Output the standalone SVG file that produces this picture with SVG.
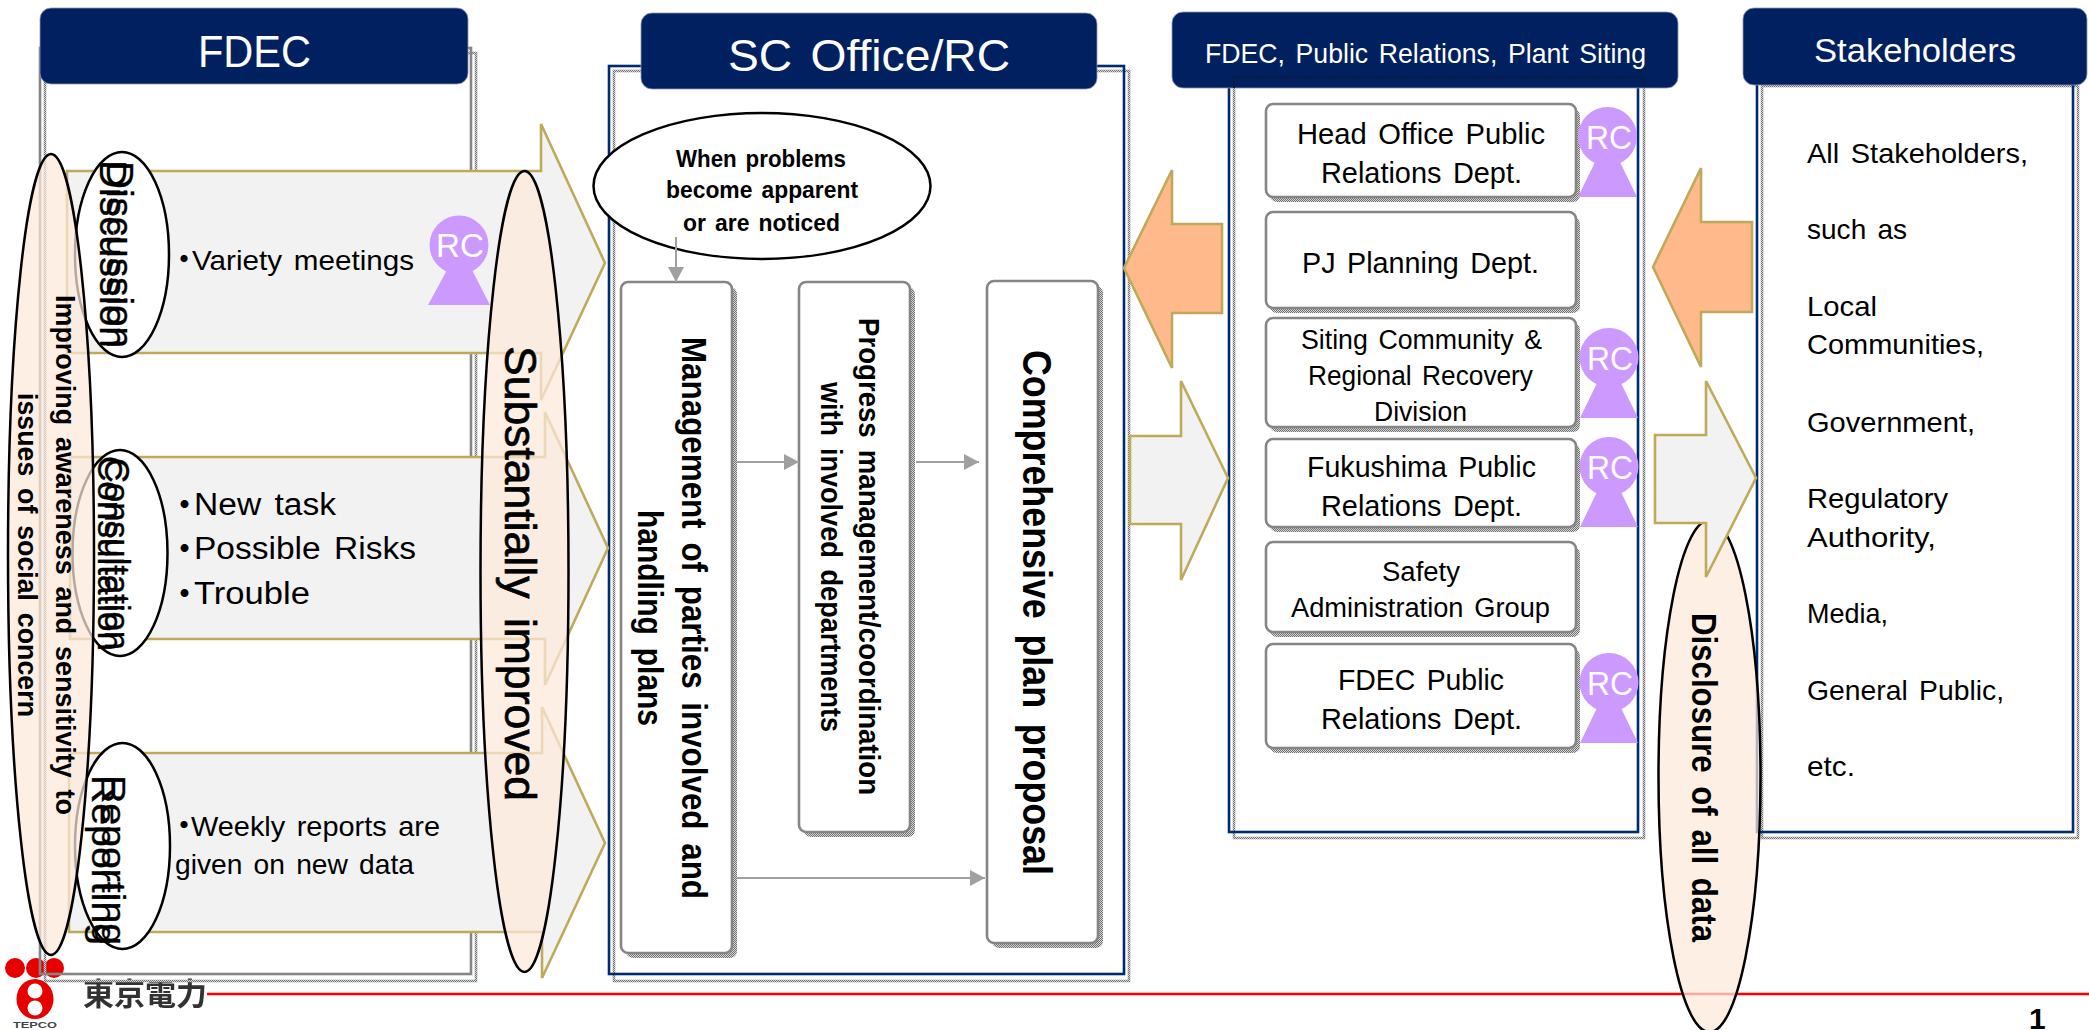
<svg xmlns="http://www.w3.org/2000/svg" width="2089" height="1030" viewBox="0 0 2089 1030">
<style>
text{font-family:"Liberation Sans","Noto Sans CJK JP",sans-serif;fill:#000;word-spacing:.12em}
.hd{fill:#002060;stroke:#8a97b5;stroke-width:.8}
.hdt{fill:#fff}
.gray{fill:none;stroke:#858585;stroke-width:2.6}
.navy{fill:none;stroke:#002a70;stroke-width:2.6}
.dot{fill:none;stroke:url(#dither);stroke-width:2.6}
.shadow{fill:url(#dither)}
.box{fill:#fff;stroke:#858585;stroke-width:2.6}
.arrow{fill:#f2f2f2;stroke:#bfa95a;stroke-width:2.6}
.orange{fill:#ffb98a;stroke:#bfa95a;stroke-width:2.6}
.ell{fill:#fff;stroke:#000;stroke-width:2.5}
.peach{fill:#fde9d9;fill-opacity:.72;stroke:#000;stroke-width:2.5}
.rc{fill:#cc99ff}
.rct{fill:#fff;font-size:33px}
.b{font-weight:700}
.w text,text.w{word-spacing:.16em}
.dbl text{stroke:#000;stroke-width:.35}
.dotb{font-weight:700}
.conn{fill:none;stroke:#a0a0a0;stroke-width:2;marker-end:url(#tip)}
</style>
<defs>
<pattern id="dither" width="2" height="2" patternUnits="userSpaceOnUse">
<rect width="2" height="2" fill="#d8d8d8"/>
<rect width="1" height="1" fill="#707070"/>
<rect x="1" y="1" width="1" height="1" fill="#707070"/>
</pattern>
<marker id="tip" markerUnits="userSpaceOnUse" markerWidth="15" markerHeight="16" refX="15" refY="8" orient="auto">
<path d="M0 0L15 8L0 16Z" fill="#a0a0a0"/>
</marker>
<filter id="soft" x="-5%" y="-5%" width="110%" height="110%"><feGaussianBlur stdDeviation="0.7"/></filter>
</defs>
<rect width="2089" height="1030" fill="#fff"/>

<g id="logo">
<g filter="url(#soft)">
<circle cx="15" cy="968" r="10" fill="#e60000"/><circle cx="36" cy="968" r="10" fill="#e60000"/><circle cx="54" cy="968" r="10" fill="#e60000"/>
<ellipse cx="35" cy="999" rx="18.5" ry="20" fill="#e60000"/>
<circle cx="35" cy="991" r="7.5" fill="#fff"/><circle cx="35" cy="1008" r="7.5" fill="#fff"/>
</g>
<text x="83" y="1005" font-size="31" font-weight="700" style="fill:#333;font-family:'Noto Sans CJK JP',sans-serif" textLength="124" lengthAdjust="spacingAndGlyphs" filter="url(#soft)">東京電力</text>
<text x="13" y="1028" font-size="9.5" font-weight="700" style="fill:#444" textLength="44" lengthAdjust="spacingAndGlyphs">TEPCO</text>
</g>
<path d="M207 994H2089" stroke="#ff0000" stroke-width="2.6" fill="none"/>

<g id="panel-fdec">
<rect class="dot" x="45" y="53" width="431" height="928"/>
<rect class="gray" x="40" y="48" width="431" height="926"/>
<rect class="hd" x="40" y="8" width="428" height="76" rx="11"/>
<text class="hdt" style="fill:#fff" x="198" y="67" font-size="44" textLength="113" lengthAdjust="spacingAndGlyphs">FDEC</text>
</g>

<g id="panel-sc">
<rect class="dot" x="614" y="71" width="515" height="910"/>
<rect class="navy" x="609" y="66" width="515" height="908"/>
<rect class="hd" x="641" y="13" width="456" height="76" rx="11"/>
<text class="hdt" style="fill:#fff" x="728" y="71" font-size="44" textLength="282" lengthAdjust="spacingAndGlyphs">SC Office/RC</text>
</g>

<g id="panel-pr">
<rect class="dot" x="1234" y="77" width="410" height="761"/>
<rect class="navy" x="1229" y="72" width="409" height="760"/>
<rect class="hd" x="1172" y="12" width="506" height="76" rx="11"/>
<path d="M1234 88V77H1644V88" fill="none" stroke="#0d1a3c" stroke-width="2" stroke-dasharray="2 1"/>
<text class="hdt" style="fill:#fff" x="1205" y="63" font-size="28" textLength="441" lengthAdjust="spacingAndGlyphs">FDEC, Public Relations, Plant Siting</text>
</g>

<g id="panel-stakeholders">
<rect class="dot" x="1762" y="86" width="316" height="752"/>
<rect class="navy" x="1757" y="80" width="316" height="752"/>
<rect class="hd" x="1743" y="8" width="344" height="77" rx="11"/>
<text class="hdt" style="fill:#fff" x="1814" y="62" font-size="33" textLength="202" lengthAdjust="spacingAndGlyphs">Stakeholders</text>
<g font-size="28">
<text x="1807" y="163" textLength="221" lengthAdjust="spacingAndGlyphs">All Stakeholders,</text>
<text x="1807" y="239" textLength="100" lengthAdjust="spacingAndGlyphs">such as</text>
<text x="1807" y="316" textLength="70" lengthAdjust="spacingAndGlyphs">Local</text>
<text x="1807" y="354" textLength="177" lengthAdjust="spacingAndGlyphs">Communities,</text>
<text x="1807" y="432" textLength="168" lengthAdjust="spacingAndGlyphs">Government,</text>
<text x="1807" y="508" textLength="141" lengthAdjust="spacingAndGlyphs">Regulatory</text>
<text x="1807" y="547" textLength="129" lengthAdjust="spacingAndGlyphs">Authority,</text>
<text x="1807" y="623" textLength="81" lengthAdjust="spacingAndGlyphs">Media,</text>
<text x="1807" y="700" textLength="197" lengthAdjust="spacingAndGlyphs">General Public,</text>
<text x="1807" y="776" textLength="48" lengthAdjust="spacingAndGlyphs">etc.</text>
</g>
</g>

<g id="arrow-discussion"><path class="arrow" d="M67 171H541V124L605 263L541 400V353H67Z"/></g>
<g id="arrow-consultation"><path class="arrow" d="M70 457H545V412L608 548L545 685V639H70Z"/></g>
<g id="arrow-reporting"><path class="arrow" d="M69 753H542V707L605 843L542 978V932H69Z"/></g>

<g id="node-discussion" class="dbl">
<ellipse class="ell" cx="122" cy="254.5" rx="47" ry="102.5"/>
<text transform="translate(100 160) rotate(90)" font-size="36" textLength="188" lengthAdjust="spacingAndGlyphs">Discussion</text>
<text transform="translate(107 161) rotate(90)" font-size="36" textLength="187" lengthAdjust="spacingAndGlyphs">Discussion</text>
</g>
<g id="node-consultation" class="dbl">
<ellipse class="ell" cx="120" cy="553" rx="47.5" ry="103"/>
<text transform="translate(98 456) rotate(90)" font-size="35" textLength="195" lengthAdjust="spacingAndGlyphs">Consultation</text>
<text transform="translate(105 458) rotate(90)" font-size="35" textLength="192" lengthAdjust="spacingAndGlyphs">Consultation</text>
</g>
<g id="node-reporting" class="dbl">
<ellipse class="ell" cx="122.5" cy="846" rx="47.5" ry="103"/>
<text transform="translate(92 775) rotate(90)" font-size="33" textLength="170" lengthAdjust="spacingAndGlyphs">Reporting</text>
<text transform="translate(102 775) rotate(90)" font-size="33" textLength="170" lengthAdjust="spacingAndGlyphs">Reporting</text>
</g>

<g id="items">
<text x="170" y="270" font-size="28"><tspan class="dotb">・</tspan><tspan x="192" textLength="222" lengthAdjust="spacingAndGlyphs">Variety meetings</tspan></text>
<text x="169" y="515" font-size="31"><tspan class="dotb">・</tspan><tspan x="194" textLength="142" lengthAdjust="spacingAndGlyphs">New task</tspan></text>
<text x="169" y="559" font-size="31"><tspan class="dotb">・</tspan><tspan x="194" textLength="222" lengthAdjust="spacingAndGlyphs">Possible Risks</tspan></text>
<text x="169" y="604" font-size="31"><tspan class="dotb">・</tspan><tspan x="194" textLength="116" lengthAdjust="spacingAndGlyphs">Trouble</tspan></text>
<text x="170" y="836" font-size="28"><tspan class="dotb">・</tspan><tspan x="191" textLength="249" lengthAdjust="spacingAndGlyphs">Weekly reports are</tspan></text>
<text x="175" y="874" font-size="28" textLength="239" lengthAdjust="spacingAndGlyphs">given on new data</text>
</g>

<g id="rc-discussion">
<circle class="rc" cx="459" cy="245" r="29.5"/><path class="rc" d="M447 270H472L490 305H428Z"/>
<text class="rct" style="fill:#fff" x="436" y="257" textLength="48" lengthAdjust="spacingAndGlyphs">RC</text>
</g>

<g id="node-improving">
<ellipse class="peach" cx="51" cy="554.5" rx="43" ry="400.5"/>
<g class="b w" font-size="28">
<text transform="translate(56 295) rotate(90)" textLength="520" lengthAdjust="spacingAndGlyphs">Improving awareness and sensitivity to</text>
<text transform="translate(18 393) rotate(90)" textLength="324" lengthAdjust="spacingAndGlyphs">issues of social concern</text>
</g>
</g>
<g id="node-improved">
<ellipse class="peach" cx="524.5" cy="571.5" rx="44" ry="400.5"/>
<text class="w" style="stroke:#000;stroke-width:.7" transform="translate(505 346) rotate(90)" font-size="44" textLength="455" lengthAdjust="spacingAndGlyphs">Substantially improved</text>
</g>

<g id="node-callout">
<ellipse class="ell" cx="762" cy="186" rx="168.5" ry="73"/>
<g class="b" font-size="24">
<text x="676" y="167" textLength="170" lengthAdjust="spacingAndGlyphs">When problems</text>
<text x="666" y="198" textLength="192" lengthAdjust="spacingAndGlyphs">become apparent</text>
<text x="683" y="231" textLength="157" lengthAdjust="spacingAndGlyphs">or are noticed</text>
</g>
</g>

<g id="node-management">
<rect class="shadow" x="626" y="287" width="111" height="671" rx="7"/>
<rect class="box" x="621" y="282" width="111" height="671" rx="7"/>
<g class="b w" font-size="35">
<text transform="translate(682 337) rotate(90)" textLength="562" lengthAdjust="spacingAndGlyphs">Management of parties involved and</text>
<text transform="translate(638 510) rotate(90)" textLength="216" lengthAdjust="spacingAndGlyphs">handling plans</text>
</g>
</g>
<g id="node-progress">
<rect class="shadow" x="804" y="287" width="111" height="550" rx="7"/>
<rect class="box" x="799" y="282" width="111" height="550" rx="7"/>
<g class="b w" font-size="30">
<text transform="translate(859 318) rotate(90)" textLength="477" lengthAdjust="spacingAndGlyphs">Progress management/coordination</text>
<text transform="translate(821 382) rotate(90)" textLength="350" lengthAdjust="spacingAndGlyphs">with involved departments</text>
</g>
</g>
<g id="node-proposal">
<rect class="shadow" x="992" y="286" width="111" height="662" rx="7"/>
<rect class="box" x="987" y="281" width="111" height="662" rx="7"/>
<text class="b w" transform="translate(1023 350) rotate(90)" font-size="40" textLength="525" lengthAdjust="spacingAndGlyphs">Comprehensive plan proposal</text>
</g>

<g id="connectors">
<path class="conn" d="M676 237V282"/>
<path class="conn" d="M737 462H799"/>
<path class="conn" d="M916 462H979"/>
<path class="conn" d="M737 878H985"/>
</g>

<g id="dept-head-office">
<rect class="shadow" x="1270" y="109" width="310" height="93" rx="7"/>
<rect class="box" x="1266" y="104" width="310" height="93" rx="7"/>
<g font-size="29">
<text x="1297" y="144" textLength="248" lengthAdjust="spacingAndGlyphs">Head Office Public</text>
<text x="1321" y="183" textLength="201" lengthAdjust="spacingAndGlyphs">Relations Dept.</text>
</g>
<circle class="rc" cx="1607.5" cy="136.5" r="29.5"/><path class="rc" d="M1595 162H1620L1637 197H1578Z"/>
<text class="rct" style="fill:#fff" x="1586" y="149" textLength="46" lengthAdjust="spacingAndGlyphs">RC</text>
</g>
<g id="dept-pj-planning">
<rect class="shadow" x="1270" y="217" width="310" height="96" rx="7"/>
<rect class="box" x="1266" y="212" width="310" height="96" rx="7"/>
<text x="1302" y="273" font-size="29" textLength="237" lengthAdjust="spacingAndGlyphs">PJ Planning Dept.</text>
</g>
<g id="dept-siting">
<rect class="shadow" x="1270" y="323" width="310" height="109" rx="7"/>
<rect class="box" x="1266" y="318" width="310" height="109" rx="7"/>
<g font-size="27">
<text x="1301" y="349" textLength="241" lengthAdjust="spacingAndGlyphs">Siting Community &amp;</text>
<text x="1308" y="385" textLength="225" lengthAdjust="spacingAndGlyphs">Regional Recovery</text>
<text x="1374" y="421" textLength="93" lengthAdjust="spacingAndGlyphs">Division</text>
</g>
<circle class="rc" cx="1609" cy="357.5" r="29.5"/><path class="rc" d="M1597 383H1621L1638 418H1580Z"/>
<text class="rct" style="fill:#fff" x="1587" y="370" textLength="46" lengthAdjust="spacingAndGlyphs">RC</text>
</g>
<g id="dept-fukushima">
<rect class="shadow" x="1270" y="444" width="310" height="88" rx="7"/>
<rect class="box" x="1266" y="439" width="310" height="88" rx="7"/>
<g font-size="29">
<text x="1307" y="477" textLength="229" lengthAdjust="spacingAndGlyphs">Fukushima Public</text>
<text x="1321" y="516" textLength="201" lengthAdjust="spacingAndGlyphs">Relations Dept.</text>
</g>
<circle class="rc" cx="1609" cy="466.5" r="29.5"/><path class="rc" d="M1597 492H1621L1638 527H1580Z"/>
<text class="rct" style="fill:#fff" x="1587" y="479" textLength="46" lengthAdjust="spacingAndGlyphs">RC</text>
</g>
<g id="dept-safety">
<rect class="shadow" x="1270" y="547" width="310" height="90" rx="7"/>
<rect class="box" x="1266" y="542" width="310" height="90" rx="7"/>
<g font-size="27">
<text x="1382" y="581" textLength="78" lengthAdjust="spacingAndGlyphs">Safety</text>
<text x="1291" y="617" textLength="259" lengthAdjust="spacingAndGlyphs">Administration Group</text>
</g>
</g>
<g id="dept-fdec-pr">
<rect class="shadow" x="1270" y="649" width="310" height="104" rx="7"/>
<rect class="box" x="1266" y="644" width="310" height="104" rx="7"/>
<g font-size="29">
<text x="1338" y="690" textLength="166" lengthAdjust="spacingAndGlyphs">FDEC Public</text>
<text x="1321" y="729" textLength="201" lengthAdjust="spacingAndGlyphs">Relations Dept.</text>
</g>
<circle class="rc" cx="1609" cy="682.5" r="29.5"/><path class="rc" d="M1597 708H1621L1638 743H1580Z"/>
<text class="rct" style="fill:#fff" x="1587" y="695" textLength="46" lengthAdjust="spacingAndGlyphs">RC</text>
</g>

<g id="node-disclosure">
<ellipse class="peach" cx="1709.5" cy="776" rx="51" ry="256"/>
<text class="b w" transform="translate(1692 613) rotate(90)" font-size="35" textLength="329" lengthAdjust="spacingAndGlyphs">Disclosure of all data</text>
</g>

<g id="arrow-in-left"><path class="orange" d="M1124 268L1172 170V224H1222V313H1172V368Z"/></g>
<g id="arrow-in-right"><path class="orange" d="M1653 267L1701 168V222H1752V312H1701V367Z"/></g>
<g id="arrow-out-left"><path class="arrow" d="M1130 436H1181V381L1228 478L1181 580V524H1130Z"/></g>
<g id="arrow-out-right"><path class="arrow" d="M1655 435H1706V381L1756 478L1706 577V523H1655Z"/></g>

<text x="2029" y="1029" font-size="30" font-weight="700">1</text>
</svg>
